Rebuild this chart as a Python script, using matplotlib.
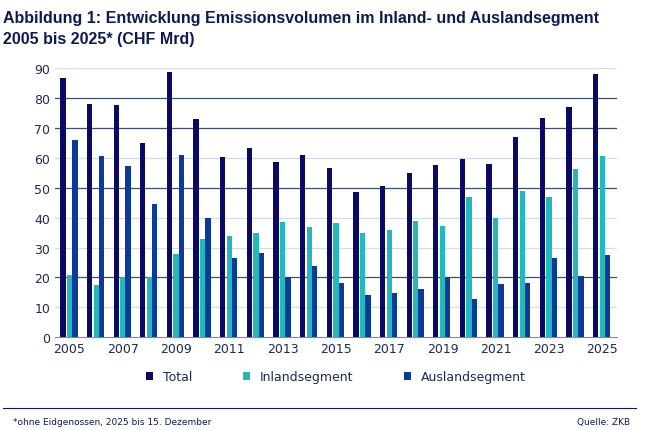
import matplotlib
matplotlib.use("Agg")
import matplotlib.pyplot as plt
import numpy as np

years = list(range(2005, 2026))
total = [86.5, 78, 77.5, 64.8, 88.5, 73, 60.3, 63.3, 58.5, 60.8, 56.5, 48.5, 50.5, 54.8, 57.5, 59.5, 58, 67, 73.3, 76.8, 88]
inland = [20.8, 17.5, 20.2, 20, 28, 33, 34, 35, 38.5, 37, 38.2, 34.7, 35.8, 39, 37.3, 46.8, 40, 48.8, 46.8, 56.2, 60.5]
ausland = [66, 60.5, 57.2, 44.5, 61, 40, 26.5, 28.2, 20, 23.8, 18, 14, 14.8, 16, 20, 12.8, 17.7, 18, 26.5, 20.5, 27.5]
ticks = list(range(0, 91, 10))
dark_grid = [20, 50, 70, 80]

fig = plt.figure(figsize=(6.46, 4.31), dpi=100)
ax = fig.add_axes([0.085, 0.215, 0.87, 0.625])
x = np.arange(len(years))
w = 0.2
ax.bar(x - 1.25 * w, total, w, color="#0a0a64", label="Total", zorder=3)
ax.bar(x, inland, w, color="#22b8c0", label="Inlandsegment", zorder=3)
ax.bar(x + w, ausland, w, color="#0a3a9a", label="Auslandsegment", zorder=3)
for t in ticks[1:]:
    ax.axhline(t, color="#3a506b" if t in dark_grid else "#d5dde8", lw=0.9, zorder=1)
ax.set_ylim(0, 90)
ax.set_yticks(ticks)
ax.set_xlim(-0.55, len(years) - 0.45)
ax.set_xticks(x[::2])
ax.set_xticklabels([str(y) for y in years[::2]])
for s in ["top", "right", "left"]:
    ax.spines[s].set_visible(False)
ax.spines["bottom"].set_color("#7a8aa0")
ax.tick_params(length=0, labelsize=9, colors="#1a2a5a")
ax.legend(loc="upper center", bbox_to_anchor=(0.5, -0.08), ncol=3, frameon=False,
          fontsize=9, handlelength=0.6, handleheight=0.6, columnspacing=4, labelcolor="#1a2a5a")
fig.text(0.005, 0.975, "Abbildung 1: Entwicklung Emissionsvolumen im Inland- und Auslandsegment\n2005 bis 2025* (CHF Mrd)",
         fontsize=11.5, fontweight="bold", family="Liberation Sans", color="#0a1a5a", va="top", linespacing=1.5)
fig.add_artist(plt.Line2D([0.005, 0.985], [0.05, 0.05], color="#0a1a5a", lw=0.8))
fig.text(0.02, 0.015, "*ohne Eidgenossen, 2025 bis 15. Dezember", fontsize=6.5, color="#0a1a5a")
fig.text(0.975, 0.015, "Quelle: ZKB", fontsize=6.5, color="#0a1a5a", ha="right")
fig.savefig("out.png", dpi=100)
